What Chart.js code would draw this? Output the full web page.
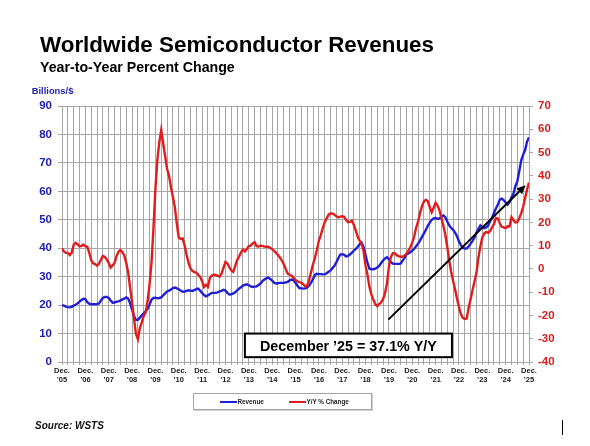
<!DOCTYPE html>
<html><head><meta charset="utf-8">
<script src="https://cdn.jsdelivr.net/npm/chart.js@4.4.1/dist/chart.umd.min.js"></script>
<style>
html,body{margin:0;padding:0;background:#fff;}
#wrap{position:relative;width:590px;height:446px;overflow:hidden;font-family:"Liberation Sans",Arial,sans-serif;}
#c{position:absolute;left:0;top:0;width:590px;height:446px;}
.t{position:absolute;white-space:nowrap;line-height:1;font-weight:bold;}
#legend{position:absolute;left:192.5px;top:393.3px;width:177px;height:15px;border:1px solid #a3a3a3;background:#fff;box-shadow:1px 1px 0 #d0d0d0;}
.li{position:absolute;top:0;height:15px;}
.sw{position:absolute;top:6.5px;height:2px;width:17px;}
.lt{position:absolute;top:4.6px;left:17.5px;font-size:6.3px;line-height:1;font-weight:bold;color:#222;white-space:nowrap;}
</style></head><body>
<div id="wrap">
<canvas id="c" width="590" height="446"></canvas>
<div class="t" style="left:40px;top:33.7px;font-size:22.4px;color:#000">Worldwide Semiconductor Revenues</div>
<div class="t" style="left:40px;top:59.7px;font-size:14.2px;color:#000">Year-to-Year Percent Change</div>
<div class="t" style="left:31.7px;top:86px;font-size:9.4px;color:#2424b0">Billions/$</div>
<div class="t" style="left:35px;top:420.5px;font-size:10px;font-style:italic;color:#111">Source: WSTS</div>
<div style="position:absolute;left:561.5px;top:420px;width:1px;height:15px;background:#000"></div>
<div id="legend"></div>
</div>
<script>
// ---- data ----
const seriesNames = ['Revenue', 'Y/Y % Change'];
const yearLabels = ['\u201905','\u201906','\u201907','\u201908','\u201909','\u201910','\u201911','\u201912','\u201913','\u201914','\u201915','\u201916','\u201917','\u201918','\u201919','\u201920','\u201921','\u201922','\u201923','\u201924','\u201925'];
const monthName = 'Dec.';
// monthly 3MMA revenue, billions $, Dec 2005 .. Dec 2025
const revenue = [20.0,
 19.8,19.5,19.3,19.2,19.4,19.8,20.1,20.6,21.2,21.8,22.2,22.1,
 21.0,20.5,20.3,20.3,20.3,20.4,20.6,21.6,22.5,22.9,22.9,22.5,
 21.6,20.8,20.9,21.2,21.3,21.6,22.0,22.3,22.7,22.3,20.7,18.4,
 16.2,14.8,14.8,15.6,16.4,17.1,17.8,18.8,20.2,21.9,22.5,22.6,
 22.4,22.5,22.7,23.4,24.1,24.8,25.1,25.5,26.0,26.2,25.9,25.6,
 25.1,24.7,24.8,25.0,25.2,25.1,25.0,25.3,25.6,25.8,25.1,24.3,
 23.5,23.1,23.4,23.9,24.3,24.3,24.3,24.5,24.8,25.0,25.4,25.1,
 24.3,23.7,23.8,24.1,24.5,25.2,25.8,26.3,26.9,27.1,27.3,27.0,
 26.6,26.4,26.5,26.6,27.1,27.6,28.4,29.0,29.4,29.7,29.2,28.6,
 27.9,27.6,27.7,27.8,27.8,27.8,28.0,28.2,28.7,29.0,28.8,27.8,
 26.8,26.0,25.9,25.8,25.9,26.2,26.8,27.9,29.2,30.6,31.0,30.9,
 30.9,30.8,30.8,31.2,31.7,32.2,33.0,33.8,35.0,36.5,37.8,37.9,
 37.7,37.1,37.3,37.8,38.4,39.2,39.8,40.5,41.4,41.9,40.4,37.6,
 34.8,32.8,32.6,32.6,32.8,33.2,33.8,34.8,35.7,36.4,36.8,36.2,
 35.1,34.6,34.5,34.5,34.5,34.6,35.6,36.5,37.8,38.2,38.6,39.2,
 39.8,40.7,41.6,42.7,44.0,45.2,46.5,47.9,49.0,50.0,50.5,50.6,
 50.3,50.5,51.1,51.5,50.9,49.4,48.0,47.1,46.5,45.5,44.2,42.4,
 41.1,40.1,39.9,39.9,40.7,41.6,42.6,43.8,45.5,46.8,48.0,47.3,
 47.0,47.3,48.0,49.5,50.7,52.4,54.0,55.4,57.1,57.4,56.9,56.1,
 55.3,56.2,57.9,59.1,61.8,63.5,67.1,70.9,72.9,74.5,77.5,79.0];
// year-to-year % change
const yoyChange = [8.8,
 7.5,6.9,6.9,5.9,7.0,10.3,11.2,10.6,9.7,9.9,10.4,9.8,
 9.5,7.0,3.8,2.4,2.1,1.4,2.2,3.9,5.6,5.1,4.1,2.6,
 0.6,1.5,2.6,5.4,7.3,8.1,7.2,5.8,2.6,-1.4,-8.1,-14.3,
 -21.3,-28.0,-30.2,-25.5,-23.0,-20.2,-18.7,-13.8,-6.7,2.7,17.3,34.3,
 46.8,54.5,59.7,54.0,48.5,43.0,40.0,35.0,31.0,26.5,19.5,13.5,
 12.9,13.1,10.1,6.2,2.7,0.3,-0.8,-1.4,-1.6,-2.5,-3.4,-5.3,
 -7.8,-6.8,-7.7,-3.9,-2.8,-2.5,-2.6,-3.0,-3.3,-2.0,0.5,3.0,
 2.3,0.7,-0.7,-1.3,1.2,3.8,5.3,7.1,8.3,7.5,8.5,9.8,
 10.0,11.0,11.5,9.8,9.6,10.0,9.9,9.6,9.5,9.5,9.1,8.5,
 7.8,6.9,6.0,4.9,3.6,2.0,-0.1,-2.0,-2.5,-2.9,-3.8,-4.8,
 -5.4,-5.7,-5.9,-6.6,-7.6,-7.2,-4.7,-1.4,2.0,4.8,8.2,12.1,
 14.5,17.5,20.0,21.7,23.3,23.8,23.8,23.3,22.6,22.1,22.5,22.6,
 22.4,21.1,20.1,20.2,20.8,18.9,16.4,13.8,12.0,10.9,7.6,1.4,
 -2.6,-7.7,-11.0,-13.2,-15.1,-16.0,-15.1,-14.4,-13.0,-10.5,-6.3,0.9,
 5.0,6.7,6.7,5.9,5.5,5.2,5.2,5.7,6.5,7.8,9.3,11.3,
 13.9,17.7,20.3,24.0,27.0,29.0,29.7,29.1,26.5,24.3,26.3,28.4,
 27.2,25.2,21.9,18.5,14.7,9.4,3.6,-1.2,-5.2,-8.7,-12.8,-16.3,
 -19.4,-21.0,-21.5,-21.3,-16.6,-12.9,-9.1,-5.3,-1.7,4.8,9.6,13.5,
 15.2,15.9,15.5,16.2,17.9,19.2,21.9,21.7,19.6,18.1,17.8,17.5,
 18.3,18.2,22.2,20.9,20.0,20.1,21.8,24.0,26.7,30.4,34.1,37.1];
// annotation (in data units: month index, axis value)
const calloutText = 'December \u201925 = 37.1% Y/Y';
const calloutMonths = [94, 200.4];
const calloutBillions = [1.7, 10.0];
const arrowFrom = [167.7, -21.8];
const arrowTo = [238.3, 36.0];

const BLUE = '#1f1fd8', RED = '#e01c1c', GRID = '#a6a6a6';

// legend
const lg = document.getElementById('legend');
[[26.5, BLUE], [95.5, RED]].forEach((p, k) => {
  const d = document.createElement('div'); d.className = 'li'; d.style.left = p[0] + 'px';
  d.innerHTML = '<div class="sw" style="background:' + p[1] + '"></div><div class="lt">' + seriesNames[k] + '</div>';
  lg.appendChild(d);
});

const annot = {
  id: 'annot',
  afterDatasetsDraw(chart) {
    const {ctx, scales} = chart;
    const x = scales.x, y = scales.y, r = scales.y1;
    ctx.save();
    // arrow
    const x0 = x.getPixelForValue(arrowFrom[0]), y0 = r.getPixelForValue(arrowFrom[1]);
    const x1 = x.getPixelForValue(arrowTo[0]), y1 = r.getPixelForValue(arrowTo[1]);
    const ang = Math.atan2(y1 - y0, x1 - x0), hl = 9, hw = 4;
    const bx = x1 - hl * Math.cos(ang), by = y1 - hl * Math.sin(ang);
    ctx.strokeStyle = '#000'; ctx.fillStyle = '#000'; ctx.lineWidth = 2;
    ctx.beginPath(); ctx.moveTo(x0, y0); ctx.lineTo(bx, by); ctx.stroke();
    ctx.beginPath(); ctx.moveTo(x1, y1);
    ctx.lineTo(bx + hw * Math.sin(ang), by - hw * Math.cos(ang));
    ctx.lineTo(bx - hw * Math.sin(ang), by + hw * Math.cos(ang));
    ctx.closePath(); ctx.fill();
    // callout box
    const bl = x.getPixelForValue(calloutMonths[0]), br = x.getPixelForValue(calloutMonths[1]);
    const bt = y.getPixelForValue(calloutBillions[1]), bb = y.getPixelForValue(calloutBillions[0]);
    ctx.fillStyle = '#fff'; ctx.fillRect(bl, bt, br - bl, bb - bt);
    ctx.lineWidth = 2; ctx.strokeRect(bl, bt, br - bl, bb - bt);
    ctx.fillStyle = '#000'; ctx.font = 'bold 14.3px "Liberation Sans", Arial, sans-serif';
    ctx.textAlign = 'center'; ctx.textBaseline = 'alphabetic';
    ctx.fillText(calloutText, (bl + br) / 2, bb - 6.5);
    ctx.restore();
  }
};

Chart.defaults.font.family = '"Liberation Sans", Arial, sans-serif';
new Chart(document.getElementById('c'), {
  type: 'line',
  data: {
    datasets: [
      {label: seriesNames[1], data: yoyChange.map((v, i) => ({x: i, y: v})), yAxisID: 'y1',
       borderColor: RED, borderWidth: 2.4, pointRadius: 0, tension: 0, fill: false},
      {label: seriesNames[0], data: revenue.map((v, i) => ({x: i, y: v})), yAxisID: 'y',
       borderColor: BLUE, borderWidth: 2.4, pointRadius: 0, tension: 0, fill: false}
    ]
  },
  options: {
    responsive: false, animation: false, devicePixelRatio: 1,
    layout: {padding: {top: 106, left: 0, right: 0, bottom: 0}},
    plugins: {legend: {display: false}, tooltip: {enabled: false}},
    scales: {
      x: {
        type: 'linear', min: 0, max: 240,
        afterFit(s) { s.height = 84; },
        grid: {color: GRID, lineWidth: 1, drawTicks: true, tickLength: 3, tickColor: GRID},
        border: {display: true, color: GRID},
        ticks: {
          stepSize: 3, maxTicksLimit: 1000, autoSkip: false, maxRotation: 0, padding: 1.3,
          color: '#1a1a1a', font: {size: 7.5, weight: 'bold', lineHeight: 1.2},
          callback(v) { return (v % 12 === 0) ? [monthName, yearLabels[v / 12]] : ''; }
        }
      },
      y: {
        position: 'left', min: 0, max: 90,
        afterFit(s) { s.width = 62; },
        grid: {color: GRID, lineWidth: 1, drawTicks: true, tickLength: 4, tickColor: GRID},
        border: {display: true, color: GRID},
        ticks: {stepSize: 10, padding: 6, color: '#2020b0', font: {size: 11.5, weight: 'bold'}}
      },
      y1: {
        position: 'right', min: -40, max: 70,
        afterFit(s) { s.width = 61; },
        grid: {drawOnChartArea: false, drawTicks: true, tickLength: 4, color: GRID},
        border: {display: true, color: GRID},
        ticks: {stepSize: 10, padding: 5, color: '#d41e1e', font: {size: 11.5, weight: 'bold'}}
      }
    }
  },
  plugins: [annot]
});
</script>
</body></html>
